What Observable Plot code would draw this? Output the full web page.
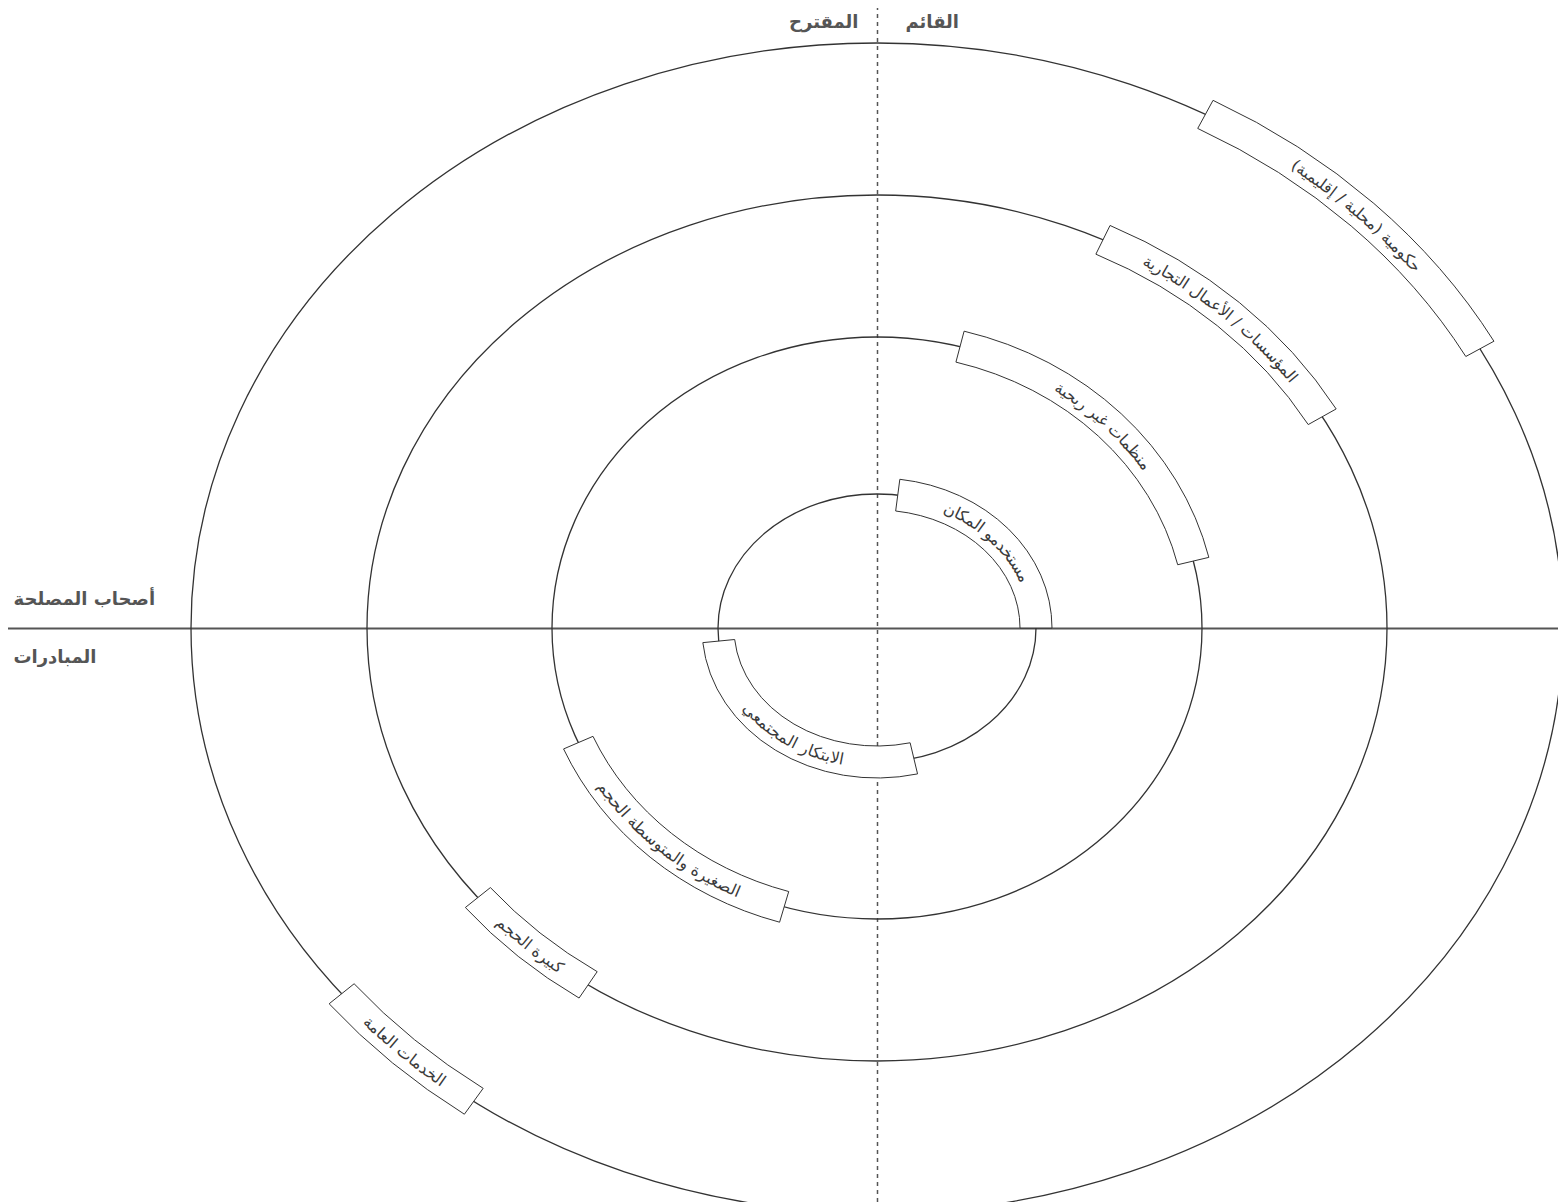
<!DOCTYPE html>
<html><head><meta charset="utf-8">
<script src="https://cdn.jsdelivr.net/npm/d3@7"></script>
<script src="https://cdn.jsdelivr.net/npm/@observablehq/plot@0.6"></script>
<style>html,body{margin:0;padding:0;background:#fff;overflow:hidden} svg{display:block}</style>
</head><body><div id="chart"></div>
<script>
// Rings (inner to outer): horizontal and vertical radii in chart units
const ringRx = [159, 325, 510, 686];
const ringRy = [134, 291, 433, 585];

// Labelled bands lying on the rings (angles in degrees, counter-clockwise from east)
const bandLabels = [
  "مستخدمو المكان",
  "منظمات غير ربحية",
  "المؤسسات / الأعمال التجارية",
  "حكومية (محلية / إقليمية)",
  "الابتكار المجتمعي",
  "الصغيرة والمتوسطة الحجم",
  "كبيرة الحجم",
  "الخدمات العامة"
];
const bandRing = [0, 1, 2, 3, 0, 1, 2, 3];
const bandFrom = [82.5, 75.2, 63.7, 61.4, 185.6, 203.2, 218.5, 218.7];
const bandTo   = [0.0, 13.3, 29.2, 28.5, 283.4, 253.4, 235.5, 234.0];

// Quadrant headings
const topLabels = ["القائم", "المقترح"];
const sideLabels = ["أصحاب المصلحة", "المبادرات"];

const FONT = "'DejaVu Sans', sans-serif";

function ellipsesMark(index, scales) {
  const {x, y} = scales;
  const g = d3.create("svg:g");
  const cx = x(0), cy = y(0);
  ringRx.forEach((rx, i) => {
    g.append("ellipse")
      .attr("cx", cx).attr("cy", cy)
      .attr("rx", Math.abs(x(rx) - cx))
      .attr("ry", Math.abs(y(ringRy[i]) - cy))
      .attr("fill", "none").attr("stroke", "#333").attr("stroke-width", 1.3);
  });
  return g.node();
}

function bandsMark(index, scales) {
  const {x, y} = scales;
  const g = d3.create("svg:g");
  const cx = x(0), cy = y(0);
  const half = 16;
  const P = (R, Ry, deg) => {
    const a = deg * Math.PI / 180;
    return [cx + R * Math.cos(a), cy - Ry * Math.sin(a)];
  };
  bandLabels.forEach((label, i) => {
    const r = bandRing[i];
    const prx = Math.abs(x(ringRx[r]) - cx);
    const pry = Math.abs(y(ringRy[r]) - cy);
    const a0 = bandFrom[i], a1 = bandTo[i];
    const s = a1 < a0 ? 1 : 0;
    const large = Math.abs(a1 - a0) > 180 ? 1 : 0;
    const orx = prx + half, ory = pry + half, irx = prx - half, iry = pry - half;
    const o0 = P(orx, ory, a0), o1 = P(orx, ory, a1);
    const i1 = P(irx, iry, a1), i0 = P(irx, iry, a0);
    const d = `M${o0}A${orx},${ory} 0 ${large} ${s} ${o1}L${i1}A${irx},${iry} 0 ${large} ${1 - s} ${i0}Z`;
    g.append("path").attr("d", d)
      .attr("fill", "#fff").attr("stroke", "#333").attr("stroke-width", 1);
    const c0 = P(prx, pry, a0), c1 = P(prx, pry, a1);
    const id = "bandpath" + i;
    g.append("path").attr("id", id).attr("fill", "none").attr("stroke", "none")
      .attr("d", `M${c0}A${prx},${pry} 0 ${large} ${s} ${c1}`);
    g.append("text")
      .attr("font-family", FONT).attr("font-size", 16).attr("fill", "#3a3a3a")
      .attr("dominant-baseline", "central")
      .append("textPath")
      .attr("href", "#" + id)
      .attr("startOffset", "50%").attr("text-anchor", "middle")
      .text(label);
  });
  return g.node();
}

const plot = Plot.plot({
  width: 1558, height: 1202, margin: 0,
  style: {fontFamily: FONT, background: "#fff"},
  x: {domain: [-877, 681], axis: null},
  y: {domain: [-574, 628], axis: null},
  marks: [
    Plot.ruleY([0], {x1: -869, x2: 681, stroke: "#555", strokeWidth: 2}),
    Plot.ruleX([0], {y1: -574, y2: 620, stroke: "#555", strokeWidth: 1.5, strokeDasharray: "4,4"}),
    ellipsesMark,
    bandsMark,
    Plot.text([topLabels[0]], {x: 28, y: 606, text: d => d, textAnchor: "start", fontSize: 18, fontWeight: "bold", fill: "#555"}),
    Plot.text([topLabels[1]], {x: -19, y: 606, text: d => d, textAnchor: "end", fontSize: 18, fontWeight: "bold", fill: "#555"}),
    Plot.text([sideLabels[0]], {x: -864, y: 29, text: d => d, textAnchor: "start", fontSize: 18, fontWeight: "bold", fill: "#555"}),
    Plot.text([sideLabels[1]], {x: -864, y: -29, text: d => d, textAnchor: "start", fontSize: 18, fontWeight: "bold", fill: "#555"})
  ]
});
document.getElementById("chart").appendChild(plot);
</script>
</body></html>
